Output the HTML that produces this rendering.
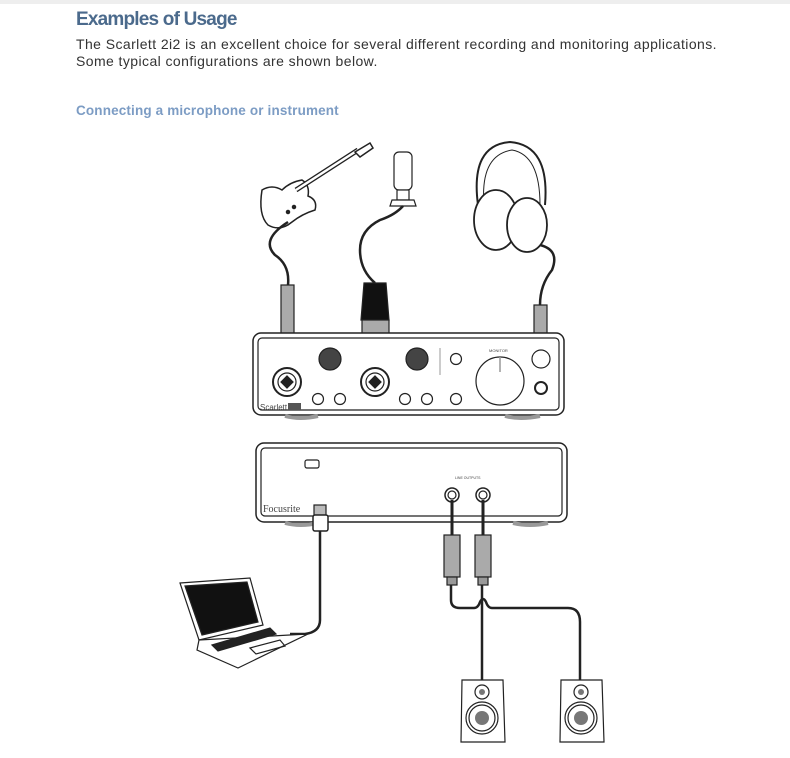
<!DOCTYPE html>
<html><head><meta charset="utf-8"><style>
body{margin:0;width:790px;height:758px;background:#fff;overflow:hidden;font-family:"Liberation Sans",sans-serif}
.t{position:absolute;left:76px;top:9px;font-size:19px;font-weight:bold;color:#4b6a8c;letter-spacing:-0.8px}
.p{position:absolute;left:76px;top:36px;font-size:14px;line-height:16.5px;color:#333;letter-spacing:0.42px;white-space:nowrap}
.s{position:absolute;left:76px;top:103px;font-size:13.5px;font-weight:bold;color:#7c9cc4;letter-spacing:0.15px}
svg{position:absolute;left:0;top:0}
</style></head><body>
<div style="position:absolute;left:0;top:0;width:790px;height:4px;background:#eee"></div>
<div class="t">Examples of Usage</div>
<div class="p">The Scarlett 2i2 is an excellent choice for several different recording and monitoring applications.<br>Some typical configurations are shown below.</div>
<div class="s">Connecting a microphone or instrument</div>
<svg width="790" height="758" viewBox="0 0 790 758" fill="none" stroke="#222" stroke-width="1.2">
<!-- guitar -->
<g stroke="#222" stroke-width="1.5">
<path d="M262 190 Q258 215 268 225 Q280 232 292 222 Q302 214 315 210 Q318 200 308 196 Q310 185 302 180 Q290 182 282 190 Q272 184 262 190Z" fill="#fff"/>
<path d="M296 190 L358 150" stroke-width="5"/>
<path d="M296 190 L358 150" stroke="#fff" stroke-width="2.5"/>
<path d="M355 152 L370 143 L373 148 L360 157Z" fill="#fff"/>
<circle cx="288" cy="212" r="1.5" fill="#222"/><circle cx="294" cy="207" r="1.5" fill="#222"/>
</g>
<path d="M288 222 Q260 240 275 255 Q290 265 288 285" stroke-width="2.5"/>
<!-- mic -->
<rect x="394" y="152" width="18" height="38" rx="5" fill="#fff"/>
<rect x="397" y="190" width="12" height="10" fill="#fff"/>
<path d="M392 200 L414 200 L416 206 L390 206Z" fill="#fff"/>
<path d="M403 206 Q395 215 380 220 Q360 230 360 250 Q360 270 375 283" stroke-width="2.5"/>
<!-- headphones -->
<path d="M478 205 Q470 145 510 142 Q550 145 545 205" stroke-width="2" fill="none"/>
<path d="M484 205 Q480 155 512 150 Q540 155 540 205" stroke-width="1"/>
<ellipse cx="496" cy="220" rx="22" ry="30" fill="#fff" stroke-width="1.8"/>
<ellipse cx="527" cy="225" rx="20" ry="27" fill="#fff" stroke-width="1.8"/>
<path d="M540 245 Q560 250 552 270 Q540 285 540 305" stroke-width="2.5"/>
<!-- guitar jack -->
<rect x="281" y="285" width="13" height="50" fill="#aaa"/>
<path d="M287 335 L287 385" stroke-width="3"/>
<!-- XLR -->
<path d="M364 283 L386 283 L389 320 L361 320Z" fill="#111"/>
<rect x="362" y="320" width="27" height="45" fill="#aaa"/>
<rect x="362" y="360" width="27" height="5" fill="#111"/>
<!-- headphone jack -->
<rect x="534" y="305" width="13" height="45" fill="#aaa"/>
<path d="M540 350 L540 392" stroke-width="3"/>
<!-- front panel -->
<rect x="253" y="333" width="311" height="82" rx="8" fill="#fff" stroke-width="1.5"/>
<rect x="258" y="338" width="301" height="72" rx="4"/>
<path d="M285 416 Q300 420 318 416 M505 416 Q520 420 540 416" stroke="#999" stroke-width="4"/>
<circle cx="287" cy="382" r="14" stroke-width="2"/><circle cx="287" cy="382" r="9"/>
<circle cx="375" cy="382" r="14" stroke-width="2"/><circle cx="375" cy="382" r="9"/>
<path d="M281 382 L287 376 L293 382 L287 388Z M369 382 L375 376 L381 382 L375 388Z" fill="#222"/>
<circle cx="330" cy="359" r="11" fill="#444"/><circle cx="417" cy="359" r="11" fill="#444"/>
<circle cx="318" cy="399" r="5.5"/><circle cx="340" cy="399" r="5.5"/>
<circle cx="405" cy="399" r="5.5"/><circle cx="427" cy="399" r="5.5"/>
<circle cx="456" cy="359" r="5.5"/><circle cx="456" cy="399" r="5.5"/>
<path d="M440 348 L440 375" stroke="#aaa"/>
<circle cx="500" cy="381" r="24"/><path d="M500 357 L500 372" stroke="#999" stroke-width="1.5"/>
<circle cx="541" cy="359" r="9"/><circle cx="541" cy="388" r="6" stroke-width="2"/>
<rect x="288" y="403" width="13" height="7" fill="#555" stroke="none"/>
<!-- back panel -->
<rect x="256" y="443" width="311" height="79" rx="8" fill="#fff" stroke-width="1.5"/>
<rect x="261" y="448" width="301" height="68" rx="4"/>
<path d="M285 523 Q300 527 318 523 M513 523 Q530 527 548 523" stroke="#999" stroke-width="4"/>
<rect x="305" y="460" width="14" height="8" rx="2"/>
<circle cx="452" cy="495" r="7" stroke-width="1.5"/><circle cx="452" cy="495" r="4"/>
<circle cx="483" cy="495" r="7" stroke-width="1.5"/><circle cx="483" cy="495" r="4"/>
<rect x="314" y="505" width="12" height="13" fill="#bbb"/>
<rect x="313" y="515" width="15" height="16" rx="2" fill="#fff" stroke-width="1.5"/>
<!-- output jacks -->
<path d="M452 500 L452 535 M483 500 L483 535" stroke-width="3"/>
<rect x="444" y="535" width="16" height="42" fill="#aaa"/>
<rect x="475" y="535" width="16" height="42" fill="#aaa"/>
<rect x="447" y="577" width="10" height="8" fill="#999"/>
<rect x="478" y="577" width="10" height="8" fill="#999"/>
<!-- cables -->
<path d="M320 531 L320 620 Q320 632 305 634 L290 634" stroke-width="2.5"/>
<path d="M451 585 L451 600 Q451 608 460 608 L474 608 Q478 608 480 602 Q483 596 486 602 Q488 608 492 608 L568 608 Q580 608 580 622 L580 680" stroke-width="2.5"/>
<path d="M482 585 L482 680" stroke-width="2.5"/>
<!-- laptop -->
<path d="M180 583 L250 578 L263 625 L199 640Z" fill="#fff"/>
<path d="M185 586 L247 582 L258 622 L202 635Z" fill="#111"/>
<path d="M199 640 L308 634 L238 668 L197 650Z" fill="#fff"/>
<path d="M212 645 L270 628 L276 634 L218 651Z" fill="#222"/>
<path d="M250 648 L280 640 L285 646 L256 654Z"/>
<!-- speakers -->
<path d="M462 680 L503 680 L505 742 L461 742Z" fill="#fff"/>
<circle cx="482" cy="692" r="7"/><circle cx="482" cy="692" r="3" fill="#777" stroke="none"/>
<circle cx="482" cy="718" r="16"/><circle cx="482" cy="718" r="13"/><circle cx="482" cy="718" r="7" fill="#777" stroke="none"/>
<path d="M561 680 L602 680 L604 742 L560 742Z" fill="#fff"/>
<circle cx="581" cy="692" r="7"/><circle cx="581" cy="692" r="3" fill="#777" stroke="none"/>
<circle cx="581" cy="718" r="16"/><circle cx="581" cy="718" r="13"/><circle cx="581" cy="718" r="7" fill="#777" stroke="none"/>
<g stroke="none" fill="#444" font-family="Liberation Sans,sans-serif">
<text x="260" y="410" font-size="8">Scarlett</text>
<text x="263" y="512" font-size="10" font-family="Liberation Serif,serif">Focusrite</text>
<text x="489" y="352" font-size="4">MONITOR</text>
<text x="455" y="479" font-size="3.5">LINE OUTPUTS</text>
</g>
</svg>
</body></html>
